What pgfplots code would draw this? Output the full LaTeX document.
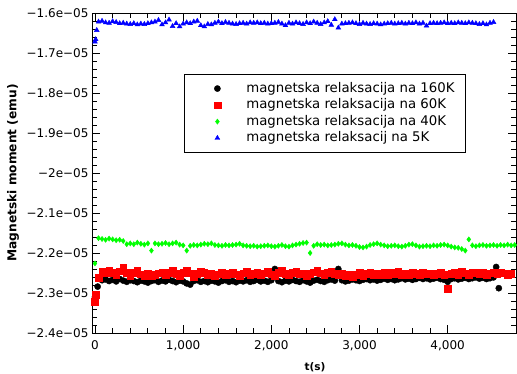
\documentclass[border=0pt]{standalone}
\usepackage{fontspec}
\setmainfont{DejaVu Sans}
\usepackage{pgfplots}
\pgfplotsset{compat=1.18}
\begin{document}
\begin{tikzpicture}
\begin{axis}[
 scale only axis, width=424pt, height=320pt,
 xmin=-34, xmax=4775, ymin=-2.4, ymax=-1.6,
 xtick={0,1000,2000,3000,4000},
 xticklabels={0,{1,000},{2,000},{3,000},{4,000}},
 ytick={-2.4,-2.3,-2.2,-2.1,-2.0,-1.9,-1.8,-1.7,-1.6},
 yticklabels={−2.4e−05,−2.3e−05,−2.2e−05,−2.1e−05,−2e−05,−1.9e−05,−1.8e−05,−1.7e−05,−1.6e−05},
 minor x tick num=4, minor y tick num=4,
 major tick length=8pt, minor tick length=5pt,
 tick style={line width=0.8pt, black},
 axis line style={line width=0.8pt},
 ticklabel style={font=\fontsize{12}{14}\selectfont},
 xticklabel style={yshift=-4pt},
 xlabel={t(s)}, ylabel={Magnetski moment (emu)},
 xlabel style={font=\bfseries\fontsize{10.5}{12}\selectfont, at={(axis description cs:0.526,-0.106)}, anchor=center},
 ylabel style={font=\bfseries\fontsize{12.2}{14}\selectfont, at={(axis description cs:-0.186,0.5)}, anchor=center},
 legend style={at={(axis description cs:0.217,0.809)}, anchor=north west, draw=black,
   font=\fontsize{13.3}{15}\selectfont, inner xsep=9pt, inner ysep=6pt,
   nodes={inner sep=1.25pt, text height=10.5pt, text depth=3.5pt}, column sep=3.5pt},
 legend cell align=left,
 legend image code/.code={\path (-24pt,0pt) (24pt,0pt); \draw[#1] plot coordinates {(0pt,0pt)};},
]
\addplot[only marks, mark=*, mark size=3.1pt, black] coordinates {
(0,-2.310)(10,-2.312)(30,-2.284)(80,-2.268)(120,-2.266)(160,-2.270)(200,-2.267)(240,-2.271)(280,-2.265)(320,-2.269)
(360,-2.272)(400,-2.268)(440,-2.270)(480,-2.273)(520,-2.269)(560,-2.271)(600,-2.274)(640,-2.270)(680,-2.268)(720,-2.272)
(760,-2.269)(800,-2.271)(840,-2.267)(880,-2.270)(920,-2.273)(960,-2.269)(1000,-2.271)(1040,-2.276)(1080,-2.279)(1120,-2.270)
(1160,-2.268)(1200,-2.272)(1240,-2.270)(1280,-2.273)(1320,-2.269)(1360,-2.271)(1400,-2.274)(1440,-2.270)(1480,-2.268)(1520,-2.272)
(1560,-2.270)(1600,-2.273)(1640,-2.269)(1680,-2.271)(1720,-2.268)(1760,-2.272)(1800,-2.270)(1840,-2.267)(1880,-2.271)(1920,-2.269)
(1960,-2.272)(2000,-2.268)(2040,-2.240)(2080,-2.270)(2120,-2.273)(2160,-2.269)(2200,-2.271)(2240,-2.267)(2280,-2.270)(2320,-2.272)
(2360,-2.268)(2400,-2.271)(2440,-2.274)(2480,-2.269)(2520,-2.267)(2560,-2.270)(2600,-2.272)(2640,-2.268)(2680,-2.266)(2720,-2.269)
(2760,-2.240)(2800,-2.268)(2840,-2.271)(2880,-2.269)(2920,-2.266)(2960,-2.268)(3000,-2.270)(3040,-2.267)(3080,-2.265)(3120,-2.268)
(3160,-2.266)(3200,-2.269)(3240,-2.267)(3280,-2.264)(3320,-2.267)(3360,-2.265)(3400,-2.268)(3440,-2.266)(3480,-2.263)(3520,-2.266)
(3560,-2.264)(3600,-2.267)(3640,-2.265)(3680,-2.262)(3720,-2.265)(3760,-2.263)(3800,-2.266)(3840,-2.264)(3880,-2.262)(3920,-2.265)
(3960,-2.267)(4000,-2.272)(4040,-2.265)(4080,-2.263)(4120,-2.266)(4160,-2.264)(4200,-2.262)(4240,-2.265)(4280,-2.263)(4320,-2.261)
(4360,-2.264)(4400,-2.262)(4440,-2.265)(4480,-2.263)(4520,-2.261)(4550,-2.235)(4580,-2.288)
};
\addlegendentry{magnetska relaksacija na 160K}
\addplot[only marks, mark=square*, mark size=3.3pt, red] coordinates {
(0,-2.322)(10,-2.305)(40,-2.262)(80,-2.246)(120,-2.250)(160,-2.244)(200,-2.249)(240,-2.254)(280,-2.246)(320,-2.236)
(360,-2.250)(400,-2.258)(440,-2.249)(480,-2.244)(520,-2.253)(560,-2.257)(600,-2.252)(640,-2.258)(680,-2.254)(720,-2.251)
(760,-2.248)(800,-2.254)(840,-2.250)(880,-2.245)(920,-2.252)(960,-2.257)(1000,-2.249)(1040,-2.243)(1080,-2.251)(1120,-2.259)
(1160,-2.252)(1200,-2.246)(1240,-2.250)(1280,-2.255)(1320,-2.251)(1360,-2.258)(1400,-2.253)(1440,-2.249)(1480,-2.256)(1520,-2.252)
(1560,-2.248)(1600,-2.253)(1640,-2.257)(1680,-2.251)(1720,-2.247)(1760,-2.255)(1800,-2.252)(1840,-2.249)(1880,-2.256)(1920,-2.251)
(1960,-2.247)(2000,-2.253)(2040,-2.257)(2080,-2.250)(2120,-2.245)(2160,-2.252)(2200,-2.256)(2240,-2.249)(2280,-2.246)(2320,-2.253)
(2360,-2.251)(2400,-2.257)(2440,-2.252)(2480,-2.248)(2520,-2.244)(2560,-2.251)(2600,-2.255)(2640,-2.250)(2680,-2.246)(2720,-2.252)
(2760,-2.256)(2800,-2.251)(2840,-2.258)(2880,-2.253)(2920,-2.260)(2960,-2.254)(3000,-2.250)(3040,-2.257)(3080,-2.252)(3120,-2.248)
(3160,-2.256)(3200,-2.251)(3240,-2.254)(3280,-2.248)(3320,-2.255)(3360,-2.250)(3400,-2.253)(3440,-2.247)(3480,-2.254)(3520,-2.251)
(3560,-2.256)(3600,-2.250)(3640,-2.252)(3680,-2.255)(3720,-2.248)(3760,-2.253)(3800,-2.251)(3840,-2.256)(3880,-2.252)(3920,-2.248)
(3960,-2.255)(4000,-2.289)(4040,-2.252)(4080,-2.249)(4120,-2.254)(4160,-2.247)(4200,-2.251)(4240,-2.255)(4280,-2.250)(4320,-2.248)
(4360,-2.253)(4400,-2.249)(4440,-2.254)(4480,-2.251)(4520,-2.248)(4560,-2.253)(4600,-2.249)(4640,-2.251)(4680,-2.254)(4720,-2.252)
};
\addlegendentry{magnetska relaksacija na 60K}
\addplot[only marks, mark=diamond*, mark size=2.6pt, color={rgb,255:red,0;green,255;blue,0}] coordinates {
(0,-2.226)(40,-2.163)(80,-2.165)(120,-2.167)(160,-2.164)(200,-2.166)(240,-2.168)(280,-2.167)(320,-2.170)(360,-2.178)
(400,-2.176)(440,-2.178)(480,-2.174)(520,-2.177)(560,-2.179)(600,-2.176)(640,-2.194)(680,-2.176)(720,-2.178)(760,-2.177)
(800,-2.175)(840,-2.178)(880,-2.176)(920,-2.174)(960,-2.179)(1000,-2.181)(1040,-2.194)(1080,-2.182)(1120,-2.180)(1160,-2.181)
(1200,-2.179)(1240,-2.177)(1280,-2.178)(1320,-2.176)(1360,-2.180)(1400,-2.181)(1440,-2.182)(1480,-2.180)(1520,-2.181)(1560,-2.180)
(1600,-2.179)(1640,-2.177)(1680,-2.181)(1720,-2.182)(1760,-2.183)(1800,-2.182)(1840,-2.184)(1880,-2.183)(1920,-2.182)(1960,-2.181)
(2000,-2.183)(2040,-2.184)(2080,-2.182)(2120,-2.180)(2160,-2.183)(2200,-2.184)(2240,-2.181)(2280,-2.179)(2320,-2.177)(2360,-2.175)
(2400,-2.174)(2440,-2.200)(2480,-2.182)(2520,-2.178)(2560,-2.180)(2600,-2.179)(2640,-2.181)(2680,-2.180)(2720,-2.179)(2760,-2.177)
(2800,-2.176)(2840,-2.179)(2880,-2.181)(2920,-2.180)(2960,-2.182)(3000,-2.185)(3040,-2.186)(3080,-2.184)(3120,-2.180)(3160,-2.178)
(3200,-2.176)(3240,-2.179)(3280,-2.181)(3320,-2.183)(3360,-2.182)(3400,-2.181)(3440,-2.183)(3480,-2.184)(3520,-2.182)(3560,-2.179)
(3600,-2.178)(3640,-2.181)(3680,-2.184)(3720,-2.183)(3760,-2.182)(3800,-2.183)(3840,-2.181)(3880,-2.182)(3920,-2.180)(3960,-2.179)
(4000,-2.181)(4040,-2.184)(4080,-2.186)(4120,-2.187)(4160,-2.190)(4200,-2.194)(4240,-2.166)(4280,-2.181)(4320,-2.183)(4360,-2.181)
(4400,-2.180)(4440,-2.182)(4480,-2.181)(4520,-2.180)(4560,-2.182)(4600,-2.180)(4640,-2.181)(4680,-2.179)(4720,-2.181)(4760,-2.180)
};
\addlegendentry{magnetska relaksacija na 40K}
\addplot[only marks, mark=triangle*, mark size=2.8pt, blue] coordinates {
(0,-1.672)(8,-1.666)(20,-1.643)(40,-1.622)(80,-1.620)(120,-1.624)(160,-1.625)(200,-1.621)(240,-1.623)(280,-1.626)
(320,-1.625)(360,-1.627)(400,-1.628)(440,-1.626)(480,-1.629)(520,-1.627)(560,-1.628)(600,-1.626)(640,-1.624)(680,-1.622)
(720,-1.618)(760,-1.629)(800,-1.624)(840,-1.617)(880,-1.633)(920,-1.626)(960,-1.634)(1000,-1.627)(1040,-1.624)(1080,-1.626)
(1120,-1.622)(1160,-1.620)(1200,-1.631)(1240,-1.634)(1280,-1.628)(1320,-1.629)(1360,-1.625)(1400,-1.622)(1440,-1.626)(1480,-1.623)
(1520,-1.625)(1560,-1.627)(1600,-1.628)(1640,-1.626)(1680,-1.625)(1720,-1.627)(1760,-1.624)(1800,-1.625)(1840,-1.624)(1880,-1.626)
(1920,-1.625)(1960,-1.627)(2000,-1.626)(2040,-1.625)(2080,-1.623)(2120,-1.627)(2160,-1.631)(2200,-1.625)(2240,-1.627)(2280,-1.624)
(2320,-1.626)(2360,-1.628)(2400,-1.624)(2440,-1.626)(2480,-1.622)(2520,-1.625)(2560,-1.628)(2600,-1.624)(2640,-1.621)(2680,-1.630)
(2720,-1.616)(2760,-1.637)(2800,-1.627)(2840,-1.626)(2880,-1.625)(2920,-1.624)(2960,-1.626)(3000,-1.628)(3040,-1.625)(3080,-1.627)
(3120,-1.628)(3160,-1.626)(3200,-1.627)(3240,-1.629)(3280,-1.627)(3320,-1.626)(3360,-1.625)(3400,-1.627)(3440,-1.626)(3480,-1.625)
(3520,-1.627)(3560,-1.625)(3600,-1.626)(3640,-1.624)(3680,-1.627)(3720,-1.625)(3760,-1.632)(3800,-1.626)(3840,-1.625)(3880,-1.626)
(3920,-1.625)(3960,-1.624)(4000,-1.626)(4040,-1.625)(4080,-1.626)(4120,-1.624)(4160,-1.625)(4200,-1.626)(4240,-1.624)(4280,-1.625)
(4320,-1.626)(4360,-1.628)(4400,-1.626)(4440,-1.629)(4480,-1.625)(4520,-1.623)
};
\addlegendentry{magnetska relaksacij na 5K}
\end{axis}
\pgfresetboundingbox
\path[use as bounding box] (-92pt,-41pt) rectangle (425pt,333pt);
\end{tikzpicture}
\end{document}
